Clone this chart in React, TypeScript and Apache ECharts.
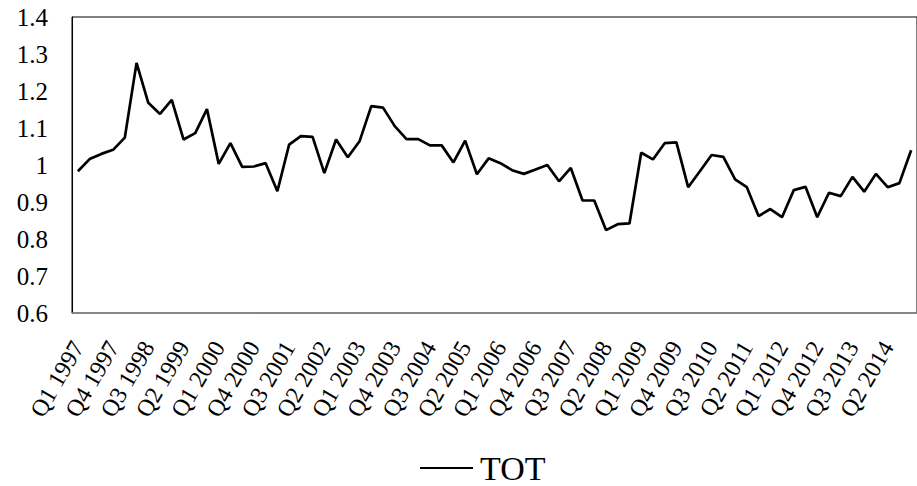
import React, { useEffect, useRef } from "react";
import * as echarts from "echarts";

const YEARS = [1997, 1998, 1999, 2000, 2001, 2002, 2003, 2004, 2005, 2006, 2007, 2008, 2009, 2010, 2011, 2012, 2013, 2014];
const QUARTERS = ["Q1", "Q2", "Q3", "Q4"];
const CATEGORIES: string[] = [];
YEARS.forEach((y) => QUARTERS.forEach((q) => CATEGORIES.push(`${q} ${y}`)));
const LABEL_EVERY = 3;

const SERIES_NAME = "TOT";
const TOT_VALUES = [
  0.983, 1.016, 1.030, 1.041, 1.074, 1.276, 1.168, 1.138, 1.176, 1.069,
  1.086, 1.151, 1.003, 1.059, 0.995, 0.996, 1.005, 0.929, 1.055, 1.078,
  1.076, 0.978, 1.069, 1.021, 1.064, 1.159, 1.155, 1.105, 1.070, 1.070,
  1.053, 1.053, 1.007, 1.066, 0.975, 1.018, 1.005, 0.986, 0.976, 0.988,
  1.000, 0.956, 0.992, 0.904, 0.904, 0.824, 0.840, 0.842, 1.033, 1.015,
  1.059, 1.061, 0.940, 0.983, 1.027, 1.022, 0.961, 0.940, 0.862, 0.881,
  0.859, 0.932, 0.941, 0.859, 0.925, 0.916, 0.968, 0.928, 0.976, 0.940,
  0.951, 1.040,
];

const Y_MIN = 0.6;
const Y_MAX = 1.4;
const Y_INTERVAL = 0.1;

const FONT = "'Liberation Serif', 'Times New Roman', serif";

export default function App() {
  const ref = useRef<HTMLDivElement>(null);
  useEffect(() => {
    if (!ref.current) return;
    const chart = echarts.init(ref.current, undefined, { renderer: "svg" });
    chart.setOption({
      animation: false,
      backgroundColor: "#ffffff",
      grid: {
        left: 72,
        top: 17,
        width: 853.4,
        height: 296,
        show: true,
        borderColor: "#000000",
        borderWidth: 1,
        backgroundColor: "transparent",
      },
      legend: {
        data: [{ name: SERIES_NAME, icon: "rect" }],
        left: 420,
        top: 451,
        itemWidth: 53,
        itemHeight: 2,
        itemGap: 10,
        padding: 0,
        textStyle: { fontFamily: FONT, fontSize: 34, lineHeight: 34, color: "#000", padding: [0, 0, 0, 2] },
        itemStyle: { color: "#000" },
      },
      xAxis: {
        type: "category",
        data: CATEGORIES,
        boundaryGap: true,
        axisTick: { show: false },
        axisLine: { lineStyle: { color: "#898989", width: 1.5 } },
        axisLabel: {
          interval: 0,
          formatter: (v: string, i: number) => (i % LABEL_EVERY === 0 ? v : ""),
          rotate: 60,
          margin: 30,
          fontFamily: FONT,
          fontSize: 24,
          color: "#000",
        },
        splitLine: { show: false },
      },
      yAxis: {
        type: "value",
        min: Y_MIN,
        max: Y_MAX,
        interval: Y_INTERVAL,
        axisLine: { show: true, lineStyle: { color: "#000", width: 1 } },
        axisTick: { show: false },
        splitLine: { show: false },
        axisLabel: {
          margin: 24,
          fontFamily: FONT,
          fontSize: 25,
          color: "#000",
          formatter: (v: number) => String(Math.round(v * 10) / 10),
        },
      },
      series: [
        {
          name: SERIES_NAME,
          type: "line",
          data: TOT_VALUES,
          symbol: "none",
          showSymbol: false,
          lineStyle: { color: "#000", width: 2.7 },
          itemStyle: { color: "#000" },
        },
      ],
    });
    return () => chart.dispose();
  }, []);
  return (
    <div
      ref={ref}
      style={{ position: "fixed", left: 0, top: 0, width: 917, height: 486, background: "#fff" }}
    />
  );
}
